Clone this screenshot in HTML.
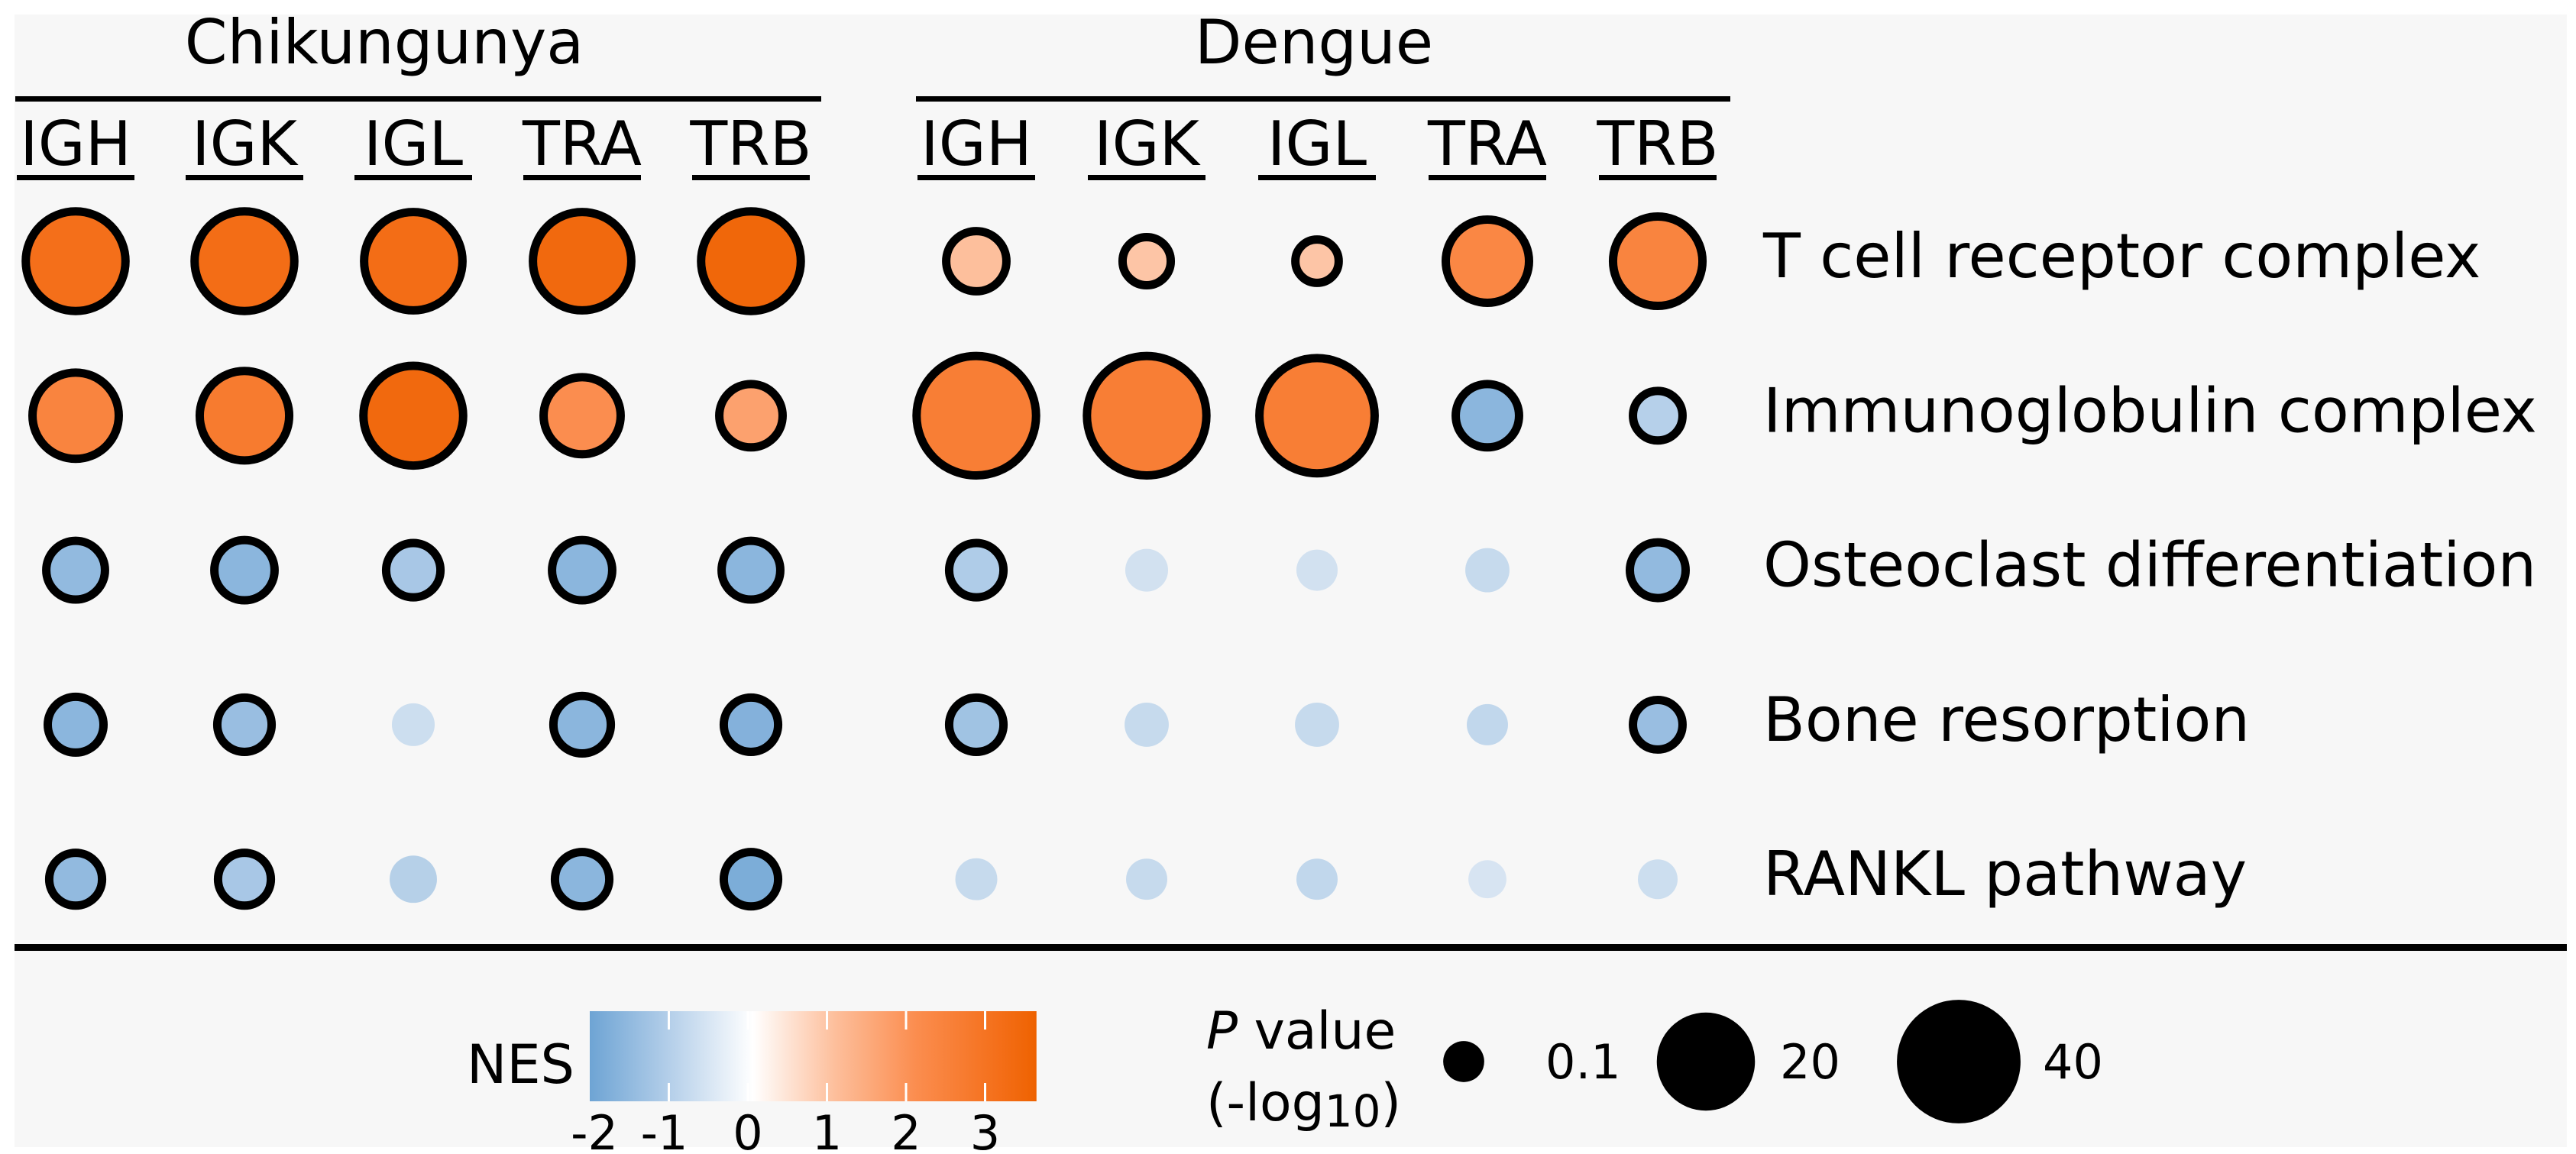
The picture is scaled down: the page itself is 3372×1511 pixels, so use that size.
<!DOCTYPE html>
<html><head><meta charset="utf-8"><style>
html,body{margin:0;padding:0;background:#fff;}
svg{display:block;}
text{font-family:"DejaVu Sans","Liberation Sans",sans-serif;fill:#000;}
</style></head><body>
<svg id="chart" width="3372" height="1511" viewBox="0 0 3372 1511" xmlns="http://www.w3.org/2000/svg">
<defs>
<linearGradient id="nesgrad" x1="0" x2="1" y1="0" y2="0">
<stop offset="0" stop-color="#6ea4d4"/>
<stop offset="0.183" stop-color="#b6d0ea"/>
<stop offset="0.365" stop-color="#ffffff"/>
<stop offset="0.548" stop-color="#fdbf9c"/>
<stop offset="0.73" stop-color="#fb8d4f"/>
<stop offset="0.913" stop-color="#f46f1a"/>
<stop offset="1" stop-color="#ee6200"/>
</linearGradient>
</defs>
<rect x="19" y="19" width="3341" height="1483" fill="#f7f7f7"/>
<g id="plot"></g>
</svg>
<script>
const groups = ["Chikungunya", "Dengue"];
const genes = ["IGH", "IGK", "IGL", "TRA", "TRB"];
const pathways = ["T cell receptor complex", "Immunoglobulin complex", "Osteoclast differentiation", "Bone resorption", "RANKL pathway"];
// -log10 P values, rows = pathways, cols = Chik(5) then Dengue(5)
const pvalues = [
  [27, 27, 26, 26, 27,   5.4, 2.1, 1.2, 16, 19.8],
  [17.8, 19.8, 27, 12.6, 6.5,   44, 44, 40, 6.5, 2.4],
  [4.9, 5.4, 3.6, 5.4, 4.9,   3.6, 0.2, 0.11, 0.3, 4.0],
  [4.0, 3.6, 0.2, 4.5, 3.6,   3.6, 0.3, 0.3, 0.11, 2.4],
  [3.2, 3.2, 0.6, 3.6, 3.6,   0.15, 0.11, 0.11, 0.01, 0.05]
];
const nes = [
  [3.0, 3.1, 3.1, 3.3, 3.4,   1.0, 0.9, 0.9, 2.2, 2.3],
  [2.3, 2.6, 3.3, 2.0, 1.6,   2.5, 2.5, 2.5, -1.6, -1.0],
  [-1.5, -1.6, -1.2, -1.6, -1.6,   -1.1, -0.8, -0.8, -1.0, -1.5],
  [-1.6, -1.4, -0.9, -1.6, -1.7,   -1.3, -1.0, -1.0, -1.1, -1.4],
  [-1.5, -1.2, -1.3, -1.6, -1.8,   -1.0, -1.0, -1.1, -0.7, -0.9]
];
const significant = [
  [1,1,1,1,1, 1,1,1,1,1],
  [1,1,1,1,1, 1,1,1,1,1],
  [1,1,1,1,1, 1,0,0,0,1],
  [1,1,0,1,1, 1,0,0,0,1],
  [1,1,0,1,1, 0,0,0,0,0]
];
const nesTicks = [-2, -1, 0, 1, 2, 3];
const sizeLegend = [0.1, 20, 40];

const NS = "http://www.w3.org/2000/svg";
const g = document.getElementById("plot");
function el(tag, attrs, parent) {
  const e = document.createElementNS(NS, tag);
  for (const k in attrs) e.setAttribute(k, attrs[k]);
  (parent || g).appendChild(e);
  return e;
}
const groupStart = [99, 1278], colStep = [221, 223];
function xPos(col) { const gi = col < 5 ? 0 : 1; return groupStart[gi] + (col % 5) * colStep[gi]; }
function yPos(row) { return 342 + row * 202.3; }
function rSize(p) { return 24 + 9 * Math.sqrt(p); }
function nesX(v) { return 979 + v * 103.5; }
const stops = [[-2,[110,164,212]],[-1,[182,208,234]],[0,[255,255,255]],[1,[253,191,156]],[2,[251,141,79]],[3,[244,111,26]],[3.65,[238,98,0]]];
function color(v) {
  if (v <= stops[0][0]) v = stops[0][0];
  if (v >= stops[stops.length-1][0]) v = stops[stops.length-1][0];
  for (let i = 0; i < stops.length - 1; i++) {
    const a = stops[i], b = stops[i+1];
    if (v >= a[0] && v <= b[0]) {
      const t = (v - a[0]) / (b[0] - a[0]);
      const c = a[1].map((x, j) => Math.round(x + (b[1][j] - x) * t));
      return `rgb(${c[0]},${c[1]},${c[2]})`;
    }
  }
  return "#fff";
}

const groupLines = [[20, 1075], [1199, 2265]];
groups.forEach((name, gi) => {
  const t = el("text", {x: gi === 0 ? 503 : 1720, y: 83, "font-size": 80, "text-anchor": "middle"});
  t.textContent = name;
  
  
  const l = el("rect", {x: groupLines[gi][0], y: 126, width: groupLines[gi][1] - groupLines[gi][0], height: 7, fill: "#000"});
  
  
  genes.forEach((gene, k) => {
    const cx = xPos(gi * 5 + k);
    const ct = el("text", {x: cx, y: 216, "font-size": 80, "text-anchor": "middle"});
    ct.textContent = gene;
    
    
    const u = el("rect", {x: cx - 77, y: 229, width: 154, height: 7, fill: "#000"});
    
    
  });
});

pathways.forEach((p, r) => {
  const t = el("text", {x: 2308, y: yPos(r) + 21, "font-size": 80});
  t.textContent = p;
  
  
});

pvalues.forEach((row, r) => {
  row.forEach((p, c) => {
    const sig = significant[r][c];
    const R = rSize(p);
    const circ = el("circle", {cx: xPos(c), cy: yPos(r), r: sig ? R - 5.5 : R,
      fill: color(nes[r][c]), stroke: sig ? "#000" : "none", "stroke-width": 11,
      "fill-opacity": sig ? 1 : 0.75});
    
    
  });
});

const sep = el("rect", {x: 19, y: 1236, width: 3341, height: 9, fill: "#000"});



const nesT = el("text", {x: 752, y: 1418, "font-size": 70, "text-anchor": "end"});
nesT.textContent = "NES";


const bar = el("rect", {x: nesX(-2), y: 1324, width: nesX(3.65) - nesX(-2), height: 118, fill: "url(#nesgrad)"});


nesTicks.forEach(v => {
  if (v > -2) {
    const tl = el("rect", {x: nesX(v) - 1.5, y: 1324, width: 3, height: 24, fill: "#fff"});
    
    
    const tl2 = el("rect", {x: nesX(v) - 1.5, y: 1418, width: 3, height: 24, fill: "#fff"});
    
    
  }
  const t = el("text", {x: nesX(v) + (v < 0 ? -6 : 0) + (v === -2 ? 12 : 0), y: 1505, "font-size": 62, "text-anchor": "middle"});
  t.textContent = v < 0 ? "-" + Math.abs(v) : String(v);
  
  
});

const pt1 = el("text", {x: 1579, y: 1373, "font-size": 68});
pt1.innerHTML = '<tspan font-style="italic">P</tspan> value';


const pt2 = el("text", {x: 1579, y: 1467, "font-size": 68});
pt2.innerHTML = '(-log<tspan font-size="58" dy="8">10</tspan><tspan dy="-8">)</tspan>';


const legX = [1916, 2233, 2564], legLabX = [2023, 2330, 2674];
sizeLegend.forEach((v, i) => {
  const c = el("circle", {cx: legX[i], cy: 1390, r: rSize(v), fill: "#000"});
  
  
  const t = el("text", {x: legLabX[i], y: 1412, "font-size": 62});
  t.textContent = String(v);
  
  
});
</script>
</body></html>
